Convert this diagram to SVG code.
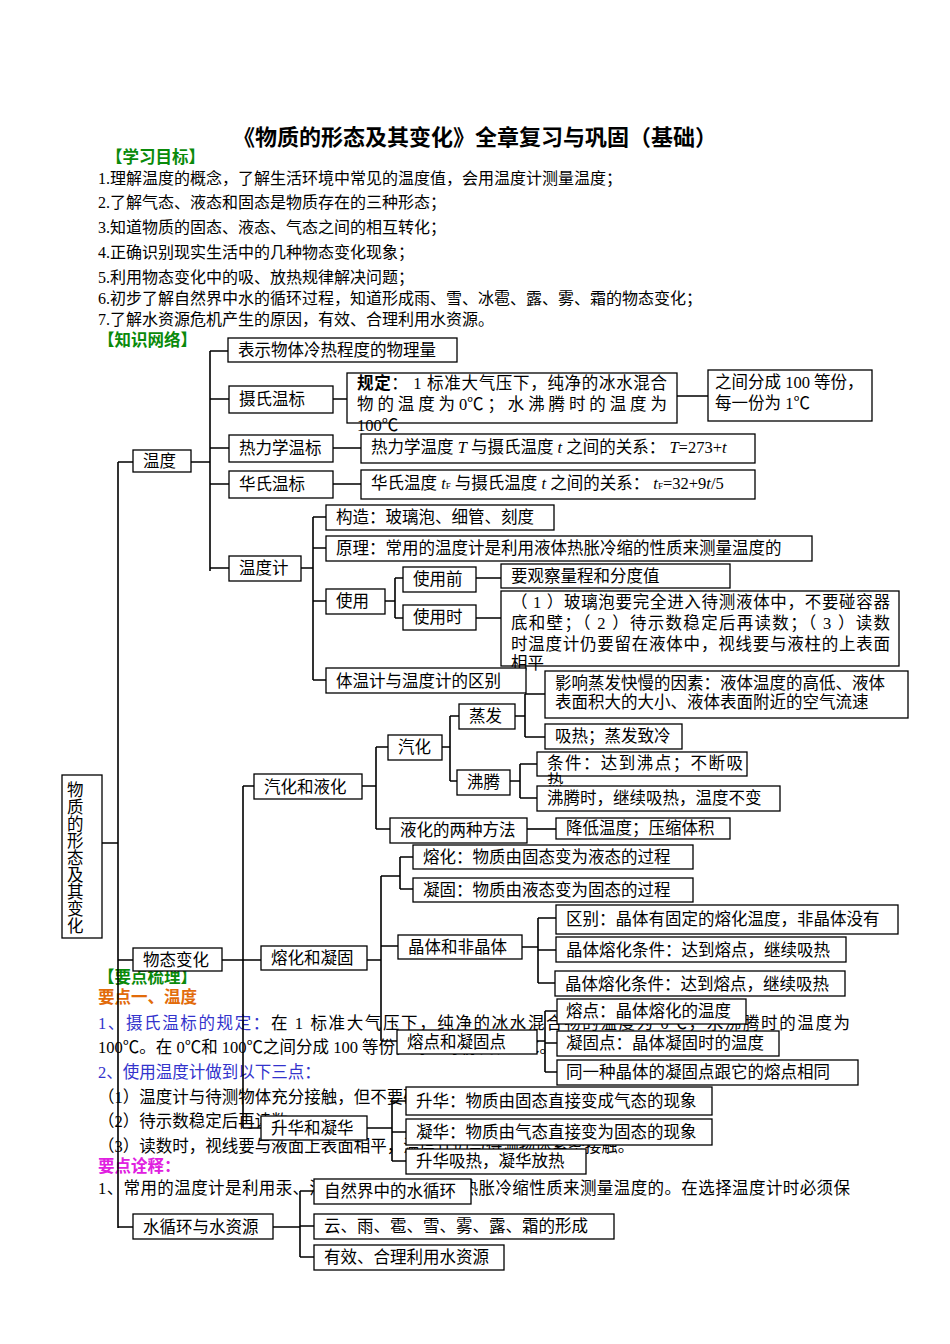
<svg xmlns="http://www.w3.org/2000/svg" width="950" height="1344" viewBox="0 0 950 1344">
<style>
text{font-family:"Liberation Serif","Noto Sans CJK SC",serif;font-size:16.5px;fill:#000}
.s{font-size:16px}
.b rect{fill:#fff;stroke:#000;stroke-width:1.3}
.c path{fill:none;stroke:#000;stroke-width:1.6}
.g{fill:#0a8a0a;font-weight:bold;font-family:"Noto Sans CJK SC",sans-serif}
.bl{fill:#3333cc}
.it{font-style:italic}
</style>
<rect width="950" height="1344" fill="#fff"/>
<text x="475" y="145" text-anchor="middle" style="font-size:22px;font-weight:bold;font-family:'Noto Sans CJK SC',sans-serif">《物质的形态及其变化》全章复习与巩固（基础）</text>
<text x="106" y="163" class="g">【学习目标】</text>
<text class="s" x="98" y="184">1.理解温度的概念，了解生活环境中常见的温度值，会用温度计测量温度；</text>
<text class="s" x="98" y="208">2.了解气态、液态和固态是物质存在的三种形态；</text>
<text class="s" x="98" y="233">3.知道物质的固态、液态、气态之间的相互转化；</text>
<text class="s" x="98" y="258">4.正确识别现实生活中的几种物态变化现象；</text>
<text class="s" x="98" y="283">5.利用物态变化中的吸、放热规律解决问题；</text>
<text class="s" x="98" y="304">6.初步了解自然界中水的循环过程，知道形成雨、雪、冰雹、露、雾、霜的物态变化；</text>
<text class="s" x="98" y="325">7.了解水资源危机产生的原因，有效、合理利用水资源。</text>
<text x="98" y="346" class="g">【知识网络】</text>
<text x="98" y="983" class="g">【要点梳理】</text>
<text x="98" y="1003" style="fill:#e26b0a;font-weight:bold;font-family:'Noto Sans CJK SC',sans-serif">要点一、温度</text>
<text x="98" y="1029" textLength="752"><tspan class="bl">1、摄氏温标的规定：</tspan>在 1 标准大气压下，纯净的冰水混合物的温度为 0℃，水沸腾时的温度为</text>
<text x="98" y="1053">100℃。在 0℃和 100℃之间分成 100 等份，每一等份代表 1℃。</text>
<text x="98" y="1078" class="bl">2、使用温度计做到以下三点：</text>
<text x="98" y="1103">（1）温度计与待测物体充分接触，但不要碰到容器的底或壁；</text>
<text x="98" y="1127">（2）待示数稳定后再读数；</text>
<text x="98" y="1152">（3）读数时，视线要与液面上表面相平，温度计仍与待测物体紧密接触。</text>
<text x="98" y="1172" style="fill:#e020e0;font-weight:bold;font-family:'Noto Sans CJK SC',sans-serif">要点诠释：</text>
<text x="98" y="1194" textLength="752">1、常用的温度计是利用汞、酒精或煤油等液体的热胀冷缩性质来测量温度的。在选择温度计时必须保</text>
<g id="connectors" class="c">
<path d="M102 843H118M118 462V1228M118 462H133M118 960H133M118 1227H133"/>
<path d="M191 462H210M210 351V571M210 351H228M210 399H229M210 448H229M210 484H229M210 568H229"/>
<path d="M333 399H347M677 396H708M333 448H361M333 484H361"/>
<path d="M301 568H313M313 517V680M313 517H326M313 548H326M313 601H326M313 680H326"/>
<path d="M385 601H395M395 578V618M395 578H403M395 618H403M476 578H501M476 618H501"/>
<path d="M222 960H243M243 786V1128M243 786H254M243 960H261M243 1128H261"/>
<path d="M362 786H376M376 747V829M376 747H388M376 829H390"/>
<path d="M442 747H450M450 716V781M450 716H459M450 781H457"/>
<path d="M515 716H525M525 694V737M525 694H545M525 737H545"/>
<path d="M510 781H520M520 764V798M520 764H537M520 798H537"/>
<path d="M527 829H556"/>
<path d="M367 960H381M381 876V1041M381 876H400M400 857V889M400 857H413M400 889H413M381 946H398M381 1041H397"/>
<path d="M522 947H538M538 918V983M538 918H556M538 950H556M538 983H555"/>
<path d="M537 1041H545M545 1011V1072M545 1011H557M545 1043H557M545 1072H557"/>
<path d="M367 1128H392M392 1101V1161M392 1101H406M392 1132H406M392 1161H406"/>
<path d="M273 1227H300M300 1191V1257M300 1191H314M300 1226H314M300 1257H314"/>
</g>
<g class="b">
<g id="root"><rect x="62" y="775" width="40" height="163"/>
<text x="67" y="796">物</text><text x="67" y="813">质</text><text x="67" y="830">的</text><text x="67" y="847">形</text><text x="67" y="864">态</text><text x="67" y="881">及</text><text x="67" y="898">其</text><text x="67" y="915">变</text><text x="67" y="932">化</text></g>
<g id="wendu"><rect x="133" y="450" width="58" height="22"/><text x="143" y="467">温度</text></g>
<g id="n1"><rect x="228" y="338" width="229" height="24"/><text x="238" y="356">表示物体冷热程度的物理量</text></g>
<g id="n2"><rect x="229" y="386" width="104" height="27"/><text x="239" y="405">摄氏温标</text></g>
<g id="n3"><rect x="347" y="373" width="330" height="50"/>
<text x="357" y="389" textLength="310"><tspan font-weight="bold">规定</tspan>：  1 标准大气压下，纯净的冰水混合</text>
<text x="357" y="410" textLength="310">物 的 温 度 为 0℃ ； 水 沸 腾 时 的 温 度 为</text>
<text x="357" y="431">100℃</text></g>
<g id="n4"><rect x="708" y="370" width="164" height="51"/><text x="715" y="388">之间分成 100 等份，</text><text x="715" y="409">每一份为 1℃</text></g>
<g id="n5"><rect x="229" y="435" width="104" height="27"/><text x="239" y="454">热力学温标</text></g>
<g id="n6"><rect x="361" y="434" width="394" height="29"/><text x="371" y="453">热力学温度 <tspan class="it">T</tspan> 与摄氏温度 <tspan class="it">t</tspan> 之间的关系：  <tspan class="it">T</tspan>=273+<tspan class="it">t</tspan></text></g>
<g id="n7"><rect x="229" y="471" width="104" height="27"/><text x="239" y="490">华氏温标</text></g>
<g id="n8"><rect x="361" y="470" width="394" height="29"/><text x="371" y="489">华氏温度 <tspan class="it">t</tspan><tspan font-size="9">F</tspan> 与摄氏温度 <tspan class="it">t</tspan> 之间的关系：  <tspan class="it">t</tspan><tspan font-size="9">F</tspan>=32+9<tspan class="it">t</tspan>/5</text></g>
<g id="n9"><rect x="229" y="556" width="72" height="25"/><text x="239" y="574">温度计</text></g>
<g id="n10"><rect x="326" y="505" width="228" height="25"/><text x="336" y="523">构造：玻璃泡、细管、刻度</text></g>
<g id="n11"><rect x="326" y="536" width="486" height="25"/><text x="336" y="554">原理：常用的温度计是利用液体热胀冷缩的性质来测量温度的</text></g>
<g id="n12"><rect x="326" y="589" width="59" height="25"/><text x="336" y="607">使用</text></g>
<g id="n13"><rect x="403" y="567" width="73" height="25"/><text x="413" y="585">使用前</text></g>
<g id="n14"><rect x="403" y="605" width="73" height="25"/><text x="413" y="623">使用时</text></g>
<g id="n15"><rect x="501" y="564" width="229" height="24"/><text x="511" y="582">要观察量程和分度值</text></g>
<g id="n16"><rect x="501" y="591" width="398" height="75"/>
<text x="511" y="608" textLength="379">（ 1 ）玻璃泡要完全进入待测液体中，不要碰容器</text>
<text x="511" y="629" textLength="379">底和壁；（ 2 ）待示数稳定后再读数；（ 3 ）读数</text>
<text x="511" y="650" textLength="379">时温度计仍要留在液体中，视线要与液柱的上表面</text>
<text x="511" y="669">相平</text></g>
<g id="n17"><rect x="326" y="668" width="200" height="25"/><text x="336" y="687">体温计与温度计的区别</text></g>
<g id="n18"><rect x="133" y="948" width="89" height="23"/><text x="143" y="966">物态变化</text></g>
<g id="n19"><rect x="254" y="774" width="108" height="25"/><text x="264" y="793">汽化和液化</text></g>
<g id="n20"><rect x="388" y="735" width="54" height="25"/><text x="398" y="753">汽化</text></g>
<g id="n21"><rect x="459" y="704" width="56" height="25"/><text x="469" y="722">蒸发</text></g>
<g id="n22"><rect x="545" y="671" width="363" height="47"/><text x="555" y="689">影响蒸发快慢的因素：液体温度的高低、液体</text><text x="555" y="708">表面积大的大小、液体表面附近的空气流速</text></g>
<g id="n23"><rect x="545" y="724" width="137" height="25"/><text x="555" y="742">吸热；蒸发致冷</text></g>
<g id="n24"><rect x="457" y="770" width="53" height="25"/><text x="467" y="788">沸腾</text></g>
<g id="n25"><rect x="537" y="752" width="210" height="24"/><text x="547" y="769" textLength="196">条件：达到沸点；不断吸</text><text x="547" y="787">热</text></g>
<g id="n26"><rect x="537" y="786" width="243" height="25"/><text x="547" y="804">沸腾时，继续吸热，温度不变</text></g>
<g id="n27"><rect x="390" y="818" width="137" height="25"/><text x="400" y="836">液化的两种方法</text></g>
<g id="n28"><rect x="556" y="818" width="174" height="21"/><text x="566" y="834">降低温度；压缩体积</text></g>
<g id="n29"><rect x="261" y="946" width="106" height="24"/><text x="271" y="964">熔化和凝固</text></g>
<g id="n30"><rect x="413" y="845" width="280" height="24"/><text x="423" y="863">熔化：物质由固态变为液态的过程</text></g>
<g id="n31"><rect x="413" y="878" width="280" height="24"/><text x="423" y="896">凝固：物质由液态变为固态的过程</text></g>
<g id="n32"><rect x="398" y="935" width="124" height="24"/><text x="408" y="953">晶体和非晶体</text></g>
<g id="n33"><rect x="556" y="905" width="342" height="29"/><text x="566" y="925">区别：晶体有固定的熔化温度，非晶体没有</text></g>
<g id="n34"><rect x="556" y="937" width="290" height="25"/><text x="566" y="956">晶体熔化条件：达到熔点，继续吸热</text></g>
<g id="n35"><rect x="555" y="971" width="290" height="25"/><text x="565" y="990">晶体熔化条件：达到熔点，继续吸热</text></g>
<g id="n36"><rect x="397" y="1030" width="140" height="24"/><text x="407" y="1048">熔点和凝固点</text></g>
<g id="n37"><rect x="557" y="999" width="189" height="25"/><text x="566" y="1017">熔点：晶体熔化的温度</text></g>
<g id="n38"><rect x="557" y="1031" width="222" height="25"/><text x="566" y="1049">凝固点：晶体凝固时的温度</text></g>
<g id="n39"><rect x="557" y="1060" width="301" height="25"/><text x="566" y="1078">同一种晶体的凝固点跟它的熔点相同</text></g>
<g id="n40"><rect x="261" y="1116" width="106" height="24"/><text x="271" y="1134">升华和凝华</text></g>
<g id="n41"><rect x="406" y="1087" width="306" height="28"/><text x="416" y="1107">升华：物质由固态直接变成气态的现象</text></g>
<g id="n42"><rect x="406" y="1119" width="306" height="26"/><text x="416" y="1138">凝华：物质由气态直接变为固态的现象</text></g>
<g id="n43"><rect x="406" y="1149" width="180" height="25"/><text x="416" y="1167">升华吸热，凝华放热</text></g>
<g id="n44"><rect x="133" y="1214" width="140" height="25"/><text x="143" y="1233">水循环与水资源</text></g>
<g id="n45"><rect x="314" y="1179" width="157" height="25"/><text x="324" y="1197">自然界中的水循环</text></g>
<g id="n46"><rect x="314" y="1214" width="300" height="25"/><text x="324" y="1232">云、雨、雹、雪、雾、露、霜的形成</text></g>
<g id="n47"><rect x="314" y="1245" width="190" height="25"/><text x="324" y="1263">有效、合理利用水资源</text></g>
</g>
</svg>
